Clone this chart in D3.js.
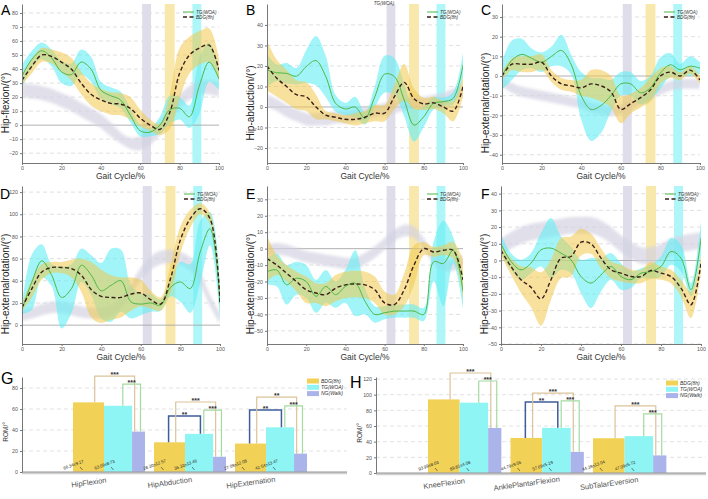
<!DOCTYPE html>
<html>
<head>
<meta charset="utf-8">
<script src="https://cdn.jsdelivr.net/npm/d3@7"></script>
<style>
  body { margin: 0; background: #fff; }
  svg { display: block; font-family: "Liberation Sans", Arial, sans-serif; }
</style>
</head>
<body>
<svg id="chart" width="708" height="499"></svg>
<script>
// ---- gait curves, sampled every 5% of the cycle ----
const gaitPct = [0, 5, 10, 15, 20, 25, 30, 35, 40, 45, 50, 55, 60, 65, 70, 75, 80, 85, 90, 95, 100];
const gaitTicks = [0, 20, 40, 60, 80, 100];

// A  hip flexion
const aTg    = [35, 47, 53, 48, 38, 36, 45, 40, 25, 21, 18, 7, -4, -5, 0, 11, 12, 6, 28, 45, 33];
const aTgSd  = [8, 6, 6, 6, 8, 8, 9, 9, 6, 6, 6, 5, 4, 3, 6, 10, 8, 8, 20, 14, 8];
const aBdg   = [32, 42, 50, 49, 45, 40, 30, 22, 18, 15.5, 15, 12, 5, 0, -3, 9, 37, 50, 55, 57, 39];
const aBdgSd = [3, 5, 5, 5, 7, 8, 8, 8, 8, 8, 8, 8, 6, 4, 4, 12, 18, 13, 12, 12, 8];
const aNg    = [25, 24, 23, 21, 18, 15, 11, 7, 3, -3, -9, -13, -13, -9, -2, 8, 17, 23, 27, 27, 25];
const aNgSd  = [5, 5, 5, 5, 5, 5, 5, 5, 5, 5, 4, 4, 5, 5, 5, 5, 5, 5, 5, 5, 5];
const ticksA = [-20, -10, 0, 10, 20, 30, 40, 50, 60, 70, 80];

// B  hip abduction
const bTg    = [18, 16.7, 16.4, 15, 19.7, 22.6, 14.8, 1.8, -1, 0, -5.5, 5, 16, 14.8, 3.4, -8.8, -4.7, 1.8, 2.6, 4.2, 20.5];
const bTgSd  = [8, 4, 5, 4, 8, 12, 10, 4, 3, 5, 3, 5, 9, 9, 8, 8, 5, 3, 2, 3, 6];
const bBdg   = [20, 14, 10, 6, 5, 0, -4, -5, -6, -6, -5, -3, -3, 5, 12, 4, 1.5, 2, 0, -2, 10];
const bBdgSd = [12, 9, 8, 7, 7, 6, 2, 2, 2, 3, 3, 4, 4, 6, 9, 5, 3, 3, 3, 5, 5];
const bNg    = [3, 1, -2, -4, -6, -6, -6, -5, -5, -4, -3, -2, -1, 0, 1, 2, 2, 3, 4, 6, 8];
const bNgSd  = [3, 3, 3, 3, 3, 3, 3, 3, 3, 3, 3, 3, 3, 3, 3, 3, 3, 3, 3, 3, 3];
const ticksB = [-20, -10, 0, 10, 20, 30, 40];

// C  hip external rotation
const cTg    = [0, 8, 11, 9, 7, 10, 13, 5.7, -10, -17, -15, -10, -4, -4, -8.5, -6, 1.5, 5.7, 3.2, 5, 4];
const cTgSd  = [7, 10, 8, 5, 5, 5, 8, 5, 12, 16, 14, 8, 6, 6, 6, 6, 8, 6, 3, 5, 3];
const cBdg   = [0, 6, 6, 6, 7, 0, -4, -5, -6, -4, -5, -8, -17, -14, -11, -7, 0, 2, 0, 3, -2];
const cBdgSd = [2, 3, 4, 4, 4, 3, 3, 3, 4, 7, 8, 8, 7, 5, 5, 6, 4, 3, 2, 2, 2];
const cNg    = [-3, -6, -8, -9, -10, -11, -12, -13, -14, -16, -17, -18, -17, -15, -12, -9, -7, -5, -4, -4, -4];
const cNgSd  = [2.5, 2.5, 2.5, 2.5, 2.5, 2.5, 2.5, 2.5, 2.5, 2.5, 2.5, 2.5, 2.5, 2.5, 2.5, 2.5, 2.5, 2.5, 2.5, 2.5, 2.5];
const ticksC = [-40, -30, -20, -10, 0, 10, 20, 30];

// D
const dTg    = [14, 39, 58, 45, 25, 33, 54, 45, 31, 36, 40, 21, 19, 20, 18, 34, 39, 33, 66, 87, 21];
const dTgSd  = [4, 25, 15, 10, 28, 22, 15, 18, 25, 33, 28, 15, 10, 8, 5, 8, 18, 22, 28, 15, 15];
const dBdg   = [16, 33, 48, 52, 52, 51, 45, 32, 26, 25, 25, 28, 29, 23, 19, 42, 77, 96, 105, 96, 20];
const dBdgSd = [3, 8, 7, 5, 5, 8, 15, 25, 24, 20, 18, 15, 12, 8, 6, 12, 12, 8, 5, 5, 8];
const dNg    = [9, 11, 14, 16, 16, 14, 12, 11, 11, 13, 20, 32, 46, 56, 61, 62, 60, 55, 42, 22, 6];
const dNgSd  = [5, 5, 5, 5, 5, 5, 5, 5, 5, 5, 5, 5, 6, 6, 6, 6, 6, 6, 6, 5, 5];
const ticksD = [0, 20, 40, 60, 80, 100, 120];

// E
const eTg    = [-14, -13, -22, -18, -20, -29, -23, -28, -23, -21, -32, -40, -39, -38, -38, -38, -40, -8, -9, -1, -26];
const eTgSd  = [8, 10, 12, 10, 10, 10, 10, 8, 10, 20, 8, 5, 4, 4, 4, 4, 4, 12, 26, 8, 10];
const eBdg   = [-6, -10, -15, -20, -25, -27, -28, -24, -22, -21.5, -22, -25, -33, -34, -25, -10, 0, -2, -1, -1, -19];
const eBdgSd = [14, 6, 5, 6, 8, 6, 7, 8, 8, 8, 8, 8, 7, 6, 10, 12, 4, 3, 3, 5, 12];
const eNg    = [-1, 0, -1, -3, -5, -6, -7, -8, -9, -9, -6, -2, 3, 8, 11, 10, 3, -6, -10, -10, -7];
const eNgSd  = [3.5, 3.5, 3.5, 3.5, 3.5, 3.5, 3.5, 3.5, 3.5, 3.5, 3.5, 3.5, 3.5, 3.5, 3.5, 3.5, 3.5, 3.5, 3.5, 3.5, 3.5];
const ticksE = [-50, -40, -30, -20, -10, 0, 10, 20, 30];

// F
const fTg    = [10, -0.6, -5.6, -1.6, 6.4, 7.4, 4.4, 0.4, -9.6, -13.5, -8.6, -3.6, -9.6, -11.5, -7.6, -6.6, -3.6, 5.4, 1.4, -17.5, 13.3];
const fTgSd  = [6, 5, 6, 6, 10, 18, 10, 8, 10, 15, 10, 8, 8, 5, 3, 4, 6, 8, 8, 4, 10];
const fBdg   = [6, -3.6, -11.5, -16, -23, -11.5, 1.4, 2.4, 11, 10, 1.4, -5.6, -7.6, -9.6, -9.6, -6, -7.6, -9.6, -16.5, -26.5, -1.6];
const fBdgSd = [3, 5, 8, 12, 16, 12, 12, 12, 8, 6, 6, 5, 5, 4, 4, 5, 4, 4, 5, 8, 5];
const fNg    = [8, 12, 15, 17, 18, 19, 20, 21, 21, 21, 19, 15, 10, 6, 3, 3, 5, 8, 10, 11, 12];
const fNgSd  = [5, 5, 5, 5, 5, 5, 5, 5, 5, 5, 5, 5, 5, 5, 5, 5, 5, 5, 5, 5, 5];
const ticksF = [-50, -40, -30, -20, -10, 0, 10, 20, 30, 40];

// phase markers (% gait cycle)
const phaseFrom = [61, 72.5, 86.5];
const phaseTo   = [65.5, 77.5, 91];

// ---- ROM bars ----
const groupNames = ["BDG(8h)", "TG(WOA)", "NG(Walk)"];
const catsG   = ["HipFlexion", "HipAbduction", "HipExternation"];
const bdgG    = [66.34, 28.30, 27.09];
const bdgSdG  = [9.17, 12.57, 12.08];
const tgG     = [63.09, 36.33, 42.54];
const tgSdG   = [8.73, 13.46, 13.47];
const ngG     = [38.5, 14.5, 17.5];
const ticksG  = [0, 20, 40, 60, 80];

const catsH   = ["KneeFlexion", "AnklePlantarFlexion", "SubTalarEversion"];
const bdgH    = [93.99, 44.79, 44.39];
const bdgSdH  = [8.03, 9.56, 13.04];
const tgH     = [89.81, 57.69, 47.09];
const tgSdH   = [4.08, 5.19, 5.72];
const ngH     = [57.5, 27, 22.5];
const ticksH  = [0, 20, 40, 60, 80, 100, 120];

// significance brackets: category index, pair, bracket height (ROM units), stars
const sigCatG   = [0, 0, 1, 1, 1, 2, 2, 2];
const sigPairG  = ["bdg-ng", "tg-ng", "bdg-tg", "bdg-ng", "tg-ng", "bdg-tg", "bdg-ng", "tg-ng"];
const sigLevelG = [91.4, 83.8, 53.3, 66.7, 59, 59, 71.4, 62.9];
const sigStarsG = ["***", "***", "**", "***", "***", "**", "**", "***"];

const sigCatH   = [0, 0, 1, 1, 1, 2, 2];
const sigPairH  = ["bdg-ng", "tg-ng", "bdg-tg", "bdg-ng", "tg-ng", "bdg-ng", "tg-ng"];
const sigLevelH = [127.7, 117.5, 90.7, 102, 92, 85.6, 75.4];
const sigStarsH = ["***", "***", "**", "***", "***", "***", "***"];

// ---- colours ----
const colTgLine = "#4cb846";
const colBdgLine = "#3a1f18";
const colTgBand = "#62eef4";
const colBdgBand = "#f0c94c";
const colNgBand = "#d3d2e2";
const phaseColors = ["#dedde9", "#f8e8ac", "#aef6f8"];
const barColors = ["#f2d256", "#8ef5f4", "#aab4ea"];
const pairColors = { "bdg-ng": "#dcc39a", "tg-ng": "#a4dba0", "bdg-tg": "#3f5c9b" };

const svg = d3.select("#chart");
const defs = svg.append("defs");
defs.append("filter").attr("id", "soft").attr("x", "-5%").attr("y", "-20%").attr("width", "110%").attr("height", "140%")
  .append("feGaussianBlur").attr("stdDeviation", 1.4);

const linePanels = [
  { letter: "A", lx: 1,   ly: 15,  title: "Hip-flexion/(°)", left: 22, right: 219, top: 4, bottom: 163, yMin: -27, yMax: 86.4, ticks: ticksA,
    tg: aTg, tgSd: aTgSd, bdg: aBdg, bdgSd: aBdgSd, ng: aNg, ngSd: aNgSd },
  { letter: "B", lx: 246, ly: 15,  title: "Hip-abduction/(°)", left: 267, right: 463, top: 4, bottom: 163, yMin: -27.3, yMax: 50.2, ticks: ticksB,
    tg: bTg, tgSd: bTgSd, bdg: bBdg, bdgSd: bBdgSd, ng: bNg, ngSd: bNgSd },
  { letter: "C", lx: 481, ly: 15,  title: "Hip-externalrotation/(°)", left: 502, right: 700, top: 4, bottom: 163, yMin: -44.2, yMax: 36.6, ticks: ticksC,
    tg: cTg, tgSd: cTgSd, bdg: cBdg, bdgSd: cBdgSd, ng: cNg, ngSd: cNgSd },
  { letter: "D", lx: 0,   ly: 199, title: "Hip-externalrotation/(°)", left: 22, right: 220, top: 186, bottom: 344, yMin: -17, yMax: 125.5, ticks: ticksD,
    tg: dTg, tgSd: dTgSd, bdg: dBdg, bdgSd: dBdgSd, ng: dNg, ngSd: dNgSd },
  { letter: "E", lx: 246, ly: 199, title: "Hip-externalrotation/(°)", left: 267, right: 463, top: 186, bottom: 344, yMin: -58, yMax: 38.1, ticks: ticksE,
    tg: eTg, tgSd: eTgSd, bdg: eBdg, bdgSd: eBdgSd, ng: eNg, ngSd: eNgSd },
  { letter: "F", lx: 481, ly: 199, title: "Hip-externalrotation/(°)", left: 501, right: 701, top: 186, bottom: 344, yMin: -50, yMax: 44.6, ticks: ticksF,
    tg: fTg, tgSd: fTgSd, bdg: fBdg, bdgSd: fBdgSd, ng: fNg, ngSd: fNgSd }
];

linePanels.forEach(drawLinePanel);

function drawLinePanel(p) {
  const x = d3.scaleLinear().domain([0, 100]).range([p.left, p.right]);
  const y = d3.scaleLinear().domain([p.yMin, p.yMax]).range([p.bottom, p.top]);
  const g = svg.append("g");

  defs.append("clipPath").attr("id", "clip" + p.letter)
    .append("rect").attr("x", p.left).attr("y", p.top)
    .attr("width", p.right - p.left).attr("height", p.bottom - p.top);

  // dashed grid
  g.selectAll("line.grid").data(p.ticks.filter(t => t !== 0)).enter().append("line")
    .attr("x1", p.left).attr("x2", p.right)
    .attr("y1", d => y(d)).attr("y2", d => y(d))
    .attr("stroke", "#d2d2d2").attr("stroke-width", 0.7).attr("stroke-dasharray", "4,3");

  // gait phase bands
  g.selectAll("rect.phase").data(phaseFrom).enter().append("rect")
    .attr("x", d => x(d)).attr("width", (d, i) => x(phaseTo[i]) - x(d))
    .attr("y", p.top).attr("height", p.bottom - p.top)
    .attr("fill", (d, i) => phaseColors[i]);

  g.append("line").attr("x1", p.left).attr("x2", p.right).attr("y1", y(0)).attr("y2", y(0))
    .attr("stroke", "#a8a8a8").attr("stroke-width", 0.9);

  const plot = g.append("g").attr("clip-path", `url(#clip${p.letter})`);
  const curve = d3.curveCatmullRom.alpha(0.5);
  const band = (mean, sd) => d3.area()
    .x((d, i) => x(gaitPct[i]))
    .y0((d, i) => y(mean[i] - sd[i]))
    .y1((d, i) => y(mean[i] + sd[i]))
    .curve(curve);
  const line = d3.line().x((d, i) => x(gaitPct[i])).y(d => y(d)).curve(curve);

  plot.append("path").datum(p.ng).attr("d", band(p.ng, p.ngSd))
    .attr("fill", colNgBand).attr("opacity", 0.7).attr("filter", "url(#soft)");
  plot.append("path").datum(p.tg).attr("d", band(p.tg, p.tgSd))
    .attr("fill", colTgBand).attr("opacity", 0.6);
  plot.append("path").datum(p.bdg).attr("d", band(p.bdg, p.bdgSd))
    .attr("fill", colBdgBand).attr("opacity", 0.55);
  plot.append("path").datum(p.tg).attr("d", line)
    .attr("fill", "none").attr("stroke", colTgLine).attr("stroke-width", 1);
  plot.append("path").datum(p.bdg).attr("d", line)
    .attr("fill", "none").attr("stroke", colBdgLine).attr("stroke-width", 1.4).attr("stroke-dasharray", "4,2.5");

  // axes
  const yAxis = g.append("g").attr("transform", `translate(${p.left},0)`)
    .call(d3.axisLeft(y).tickValues(p.ticks).tickSize(2).tickSizeOuter(0).tickPadding(2));
  const xAxis = g.append("g").attr("transform", `translate(0,${p.bottom})`)
    .call(d3.axisBottom(x).tickValues(gaitTicks).tickSize(2).tickSizeOuter(0).tickPadding(1.5));
  [yAxis, xAxis].forEach(a => {
    a.select(".domain").attr("stroke", "#777").attr("stroke-width", 1);
    a.selectAll(".tick line").attr("stroke", "#777");
    a.selectAll("text").attr("font-size", 5.3).attr("fill", "#555").attr("font-family", "Liberation Sans, Arial, sans-serif");
  });

  g.append("text").attr("x", (p.left + p.right) / 2).attr("y", p.bottom + 16)
    .attr("text-anchor", "middle").attr("font-size", 8.5).attr("fill", "#333").text("Gait Cycle/%");
  g.append("text")
    .attr("transform", `translate(${p.left - 13},${p.bottom - 60}) rotate(-90)`)
    .attr("text-anchor", "middle").attr("font-size", 10).attr("fill", "#222").text(p.title);
  g.append("text").attr("x", p.lx).attr("y", p.ly)
    .attr("font-size", 14).attr("fill", "#000").text(p.letter);

  // legend
  const lg = g.append("g").attr("transform", `translate(${p.right - 36},${p.top + 8})`);
  lg.append("line").attr("x1", 0).attr("x2", 11).attr("y1", 0).attr("y2", 0)
    .attr("stroke", colTgLine).attr("stroke-width", 1);
  lg.append("line").attr("x1", 0).attr("x2", 11).attr("y1", 5).attr("y2", 5)
    .attr("stroke", colBdgLine).attr("stroke-width", 1.4).attr("stroke-dasharray", "4,2.5");
  lg.append("text").attr("x", 13).attr("y", 1.8).attr("font-size", 4.6).attr("font-style", "italic")
    .attr("fill", "#333").text(groupNames[1]);
  lg.append("text").attr("x", 13).attr("y", 6.8).attr("font-size", 4.6).attr("font-style", "italic")
    .attr("fill", "#333").text(groupNames[0]);
}

// stray label above panel B
svg.append("text").attr("x", 384).attr("y", 5).attr("text-anchor", "middle")
  .attr("font-size", 4.6).attr("font-style", "italic").attr("fill", "#333").text(groupNames[1]);

// ---- bar panels ----
const barPanels = [
  { letter: "G", lx: 1, ly: 384, left: 22, right: 347, top: 377, base: 472, yMax: 90.5, ticks: ticksG,
    groupStart: 73, step: 81, cats: catsG, bdg: bdgG, bdgSd: bdgSdG, tg: tgG, tgSd: tgSdG, ng: ngG,
    sigCat: sigCatG, sigPair: sigPairG, sigLevel: sigLevelG, sigStars: sigStarsG, legendX: 307, legendY: 381, titleX: 8 },
  { letter: "H", lx: 350, ly: 388, left: 376, right: 706, top: 377, base: 473, yMax: 122.6, ticks: ticksH,
    groupStart: 428, step: 82.5, cats: catsH, bdg: bdgH, bdgSd: bdgSdH, tg: tgH, tgSd: tgSdH, ng: ngH,
    sigCat: sigCatH, sigPair: sigPairH, sigLevel: sigLevelH, sigStars: sigStarsH, legendX: 666, legendY: 383, titleX: 362 }
];

barPanels.forEach(drawBarPanel);

function drawBarPanel(p) {
  const g = svg.append("g");
  const y = d3.scaleLinear().domain([0, p.yMax]).range([p.base, p.top]);
  const xc = d3.scaleBand().domain(p.cats)
    .range([p.groupStart, p.groupStart + p.step * p.cats.length]).paddingInner(0).paddingOuter(0);
  const bw = xc.bandwidth();
  // sub-bar layout inside a group (fractions of the group step)
  const subStart = [0, 0.383, 0.729];
  const subWidth = [0.383, 0.346, 0.16];
  const series = [p.bdg, p.tg, p.ng];
  const sds = [p.bdgSd, p.tgSd, null];
  const barLeft = (c, s) => xc(p.cats[c]) + subStart[s] * bw;
  const barW = s => subWidth[s] * bw;

  g.selectAll("line.grid").data(p.ticks.filter(t => t !== 0)).enter().append("line")
    .attr("x1", p.left).attr("x2", p.right)
    .attr("y1", d => y(d)).attr("y2", d => y(d))
    .attr("stroke", "#d6d6d6").attr("stroke-width", 0.7).attr("stroke-dasharray", "4,3");

  series.forEach((vals, s) => {
    g.selectAll(null).data(vals).enter().append("rect")
      .attr("x", (d, c) => barLeft(c, s)).attr("width", barW(s))
      .attr("y", d => y(d)).attr("height", d => y(0) - y(d))
      .attr("fill", barColors[s]);
  });

  // value labels on BDG and TG bars
  [0, 1].forEach(s => {
    series[s].forEach((v, c) => {
      const bx = barLeft(c, s);
      g.append("text")
        .attr("transform", `translate(${bx + 1},${p.base - 6}) rotate(-20)`)
        .attr("text-anchor", "middle").attr("font-size", 4.3).attr("fill", "#222")
        .text(`${v.toFixed(2)}±${sds[s][c].toFixed(2)}`);
      g.append("line").attr("x1", bx + 7).attr("x2", bx + 9.5)
        .attr("y1", p.base - 5).attr("y2", p.base - 2)
        .attr("stroke", "#333").attr("stroke-width", 0.6);
    });
  });

  // significance brackets
  const legFrac = { "bdg-ng": [0.7, 0.2], "tg-ng": [0.67, 0.65], "bdg-tg": [0.47, 0.55] };
  const pairIdx = { "bdg-ng": [0, 2], "tg-ng": [1, 2], "bdg-tg": [0, 1] };
  p.sigCat.forEach((c, k) => {
    const pair = p.sigPair[k];
    const [sa, sb] = pairIdx[pair];
    const xa = barLeft(c, sa) + legFrac[pair][0] * barW(sa);
    const xb = barLeft(c, sb) + legFrac[pair][1] * barW(sb);
    const yt = y(p.sigLevel[k]);
    const col = pairColors[pair];
    g.append("path")
      .attr("d", `M${xa},${y(series[sa][c])}V${yt}H${xb}V${y(series[sb][c])}`)
      .attr("fill", "none").attr("stroke", col).attr("stroke-width", pair === "bdg-tg" ? 1.5 : 1.2);
    g.append("text").attr("x", (xa + xb) / 2).attr("y", yt + 1)
      .attr("text-anchor", "middle").attr("font-size", 7).attr("font-weight", "bold")
      .attr("fill", "#333").text(p.sigStars[k]);
  });

  // axes
  g.append("line").attr("x1", p.left).attr("x2", p.right).attr("y1", p.base + 1).attr("y2", p.base + 1)
    .attr("stroke", "#cfcfcf").attr("stroke-width", 2.5);
  g.append("line").attr("x1", p.left).attr("x2", p.right).attr("y1", p.base).attr("y2", p.base)
    .attr("stroke", "#8a8a8a").attr("stroke-width", 0.8);
  const yAxis = g.append("g").attr("transform", `translate(${p.left},0)`)
    .call(d3.axisLeft(y).tickValues(p.ticks).tickSize(2).tickSizeOuter(0).tickPadding(2));
  yAxis.select(".domain").attr("stroke", "#777");
  yAxis.selectAll(".tick line").attr("stroke", "#777");
  yAxis.selectAll("text").attr("font-size", 5.3).attr("fill", "#555").attr("font-family", "Liberation Sans, Arial, sans-serif");

  p.cats.forEach((name, c) => {
    g.append("text")
      .attr("transform", `translate(${xc(name) + bw * 0.2},${p.base + 13}) rotate(-8)`)
      .attr("text-anchor", "middle").attr("font-size", 7.5).attr("fill", "#555").text(name);
  });

  g.append("text").attr("transform", `translate(${p.titleX},${p.base - 40}) rotate(-90)`)
    .attr("text-anchor", "middle").attr("font-size", 6.5).attr("fill", "#333").text("ROM/°");
  g.append("text").attr("x", p.lx).attr("y", p.ly).attr("font-size", 16).attr("fill", "#000").text(p.letter);

  // legend
  groupNames.forEach((name, s) => {
    const ly = p.legendY + s * 6.3;
    g.append("rect").attr("x", p.legendX).attr("y", ly - 2.5).attr("width", 12).attr("height", 5)
      .attr("fill", barColors[s]);
    g.append("text").attr("x", p.legendX + 14).attr("y", ly + 1.8).attr("font-size", 5)
      .attr("font-style", "italic").attr("fill", "#333").text(name);
  });
}
</script>
</body>
</html>
